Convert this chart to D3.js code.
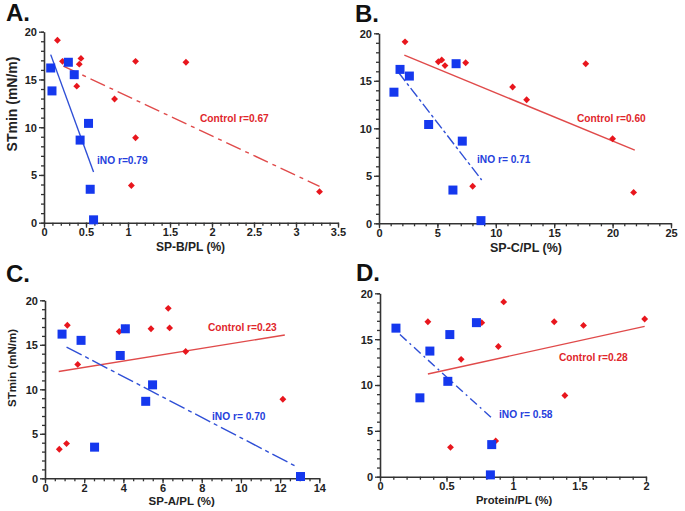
<!DOCTYPE html>
<html><head><meta charset="utf-8">
<script src="https://cdn.jsdelivr.net/npm/d3@7"></script>
<style>
body{margin:0;background:#fff}
text{font-family:"Liberation Sans",Arial,sans-serif;font-weight:bold}
</style>
</head><body>
<svg id="chart" width="685" height="511"></svg>
<script>
// ---------- DATA ----------
// Panel A: SP-B/PL (%)
const aCtrlX = [0.16,0.22,0.44,0.42,0.39,0.84,1.09,1.69,1.09,1.04,3.28];
const aCtrlY = [19.1,16.9,17.2,16.6,14.3,12.95,16.9,16.8,8.9,3.9,3.25];
const aInoX  = [0.08,0.095,0.29,0.36,0.53,0.43,0.55,0.59];
const aInoY  = [16.2,13.8,16.8,15.5,10.4,8.65,3.5,0.3];
const aCtrlFitX = [0.23,3.28], aCtrlFitY = [16.4,3.8];
const aInoFitX  = [0.08,0.59], aInoFitY  = [17.6,5.3];
// Panel B: SP-C/PL (%)
const bCtrlX = [2.23,5.08,5.37,5.65,7.42,11.44,12.64,17.7,20.0,8.02,21.8];
const bCtrlY = [19.1,17.0,17.2,16.6,16.9,14.35,13.0,16.8,8.9,3.9,3.25];
const bInoX  = [1.8,1.28,6.6,2.6,4.25,7.13,6.33,8.73];
const bInoY  = [16.2,13.8,16.8,15.5,10.4,8.65,3.5,0.28];
const bCtrlFitX = [2.17,21.9], bCtrlFitY = [17.7,7.7];
const bInoFitX  = [1.66,8.79], bInoFitY  = [15.9,4.56];
// Panel C: SP-A/PL (%)
const cCtrlX = [0.73,1.1,1.14,1.67,3.79,4.1,5.41,6.29,6.36,7.18,12.14];
const cCtrlY = [3.26,3.9,17.2,12.8,16.5,16.9,16.8,19.1,16.9,14.25,8.88];
const cInoX  = [0.87,1.84,4.1,3.84,5.49,5.14,2.53,13.04];
const cInoY  = [16.2,15.5,16.8,13.8,10.5,8.65,3.5,0.2];
const cCtrlFitX = [0.7,12.24], cCtrlFitY = [12.0,16.1];
const cInoFitX  = [1.1,12.84], cInoFitY  = [14.75,1.3];
// Panel D: Protein/PL (%)
const dCtrlX = [0.36,0.93,0.765,0.89,0.61,0.53,0.87,1.31,1.53,1.99,1.39];
const dCtrlY = [16.9,19.06,16.8,14.2,12.8,3.2,3.9,16.9,16.5,17.2,8.85];
const dInoX  = [0.12,0.375,0.525,0.725,0.51,0.30,0.84,0.83];
const dInoY  = [16.2,13.7,15.5,16.8,10.4,8.6,3.5,0.2];
const dCtrlFitX = [0.36,1.99], dCtrlFitY = [11.2,16.4];
const dInoFitX  = [0.15,0.84], dInoFitY  = [15.5,6.4];

const panelLetters = ["A.","B.","C.","D."];
const xTitles = ["SP-B/PL (%)","SP-C/PL (%)","SP-A/PL (%)","Protein/PL (%)"];
const yTitle = "STmin (mN/m)";
const ctrlLabels = ["Control r=0.67","Control r=0.60","Control r=0.23","Control r=0.28"];
const inoLabels = ["iNO r=0.79","iNO r= 0.71","iNO r= 0.70","iNO r= 0.58"];
const xMaxes = [3.5,25,14,2];
const xMajorSteps = [0.5,5,2,0.5];
const xMinorSteps = [0.1,1,0.5,0.1];
const yMajorTicks = [0,5,10,15,20];

// ---------- LAYOUT ----------
const RED = "#e8161d", BLUE = "#1538ee";
const RED_LINE = "#e04a4a", BLUE_LINE = "#2f4fd6";
const panels = [
  {l:44, r:338, t:31.7, b:222.7, letter:[6,20.5], xt:[190.5,251,12], yt:[16.5,104,14],
   ctrl:[200,121.5], ino:[97,164], ctrlDash:"16,5,4,5", inoDash:null,
   cx:aCtrlX, cy:aCtrlY, ix:aInoX, iy:aInoY, cfx:aCtrlFitX, cfy:aCtrlFitY, ifx:aInoFitX, ify:aInoFitY},
  {l:379, r:671, t:33.3, b:223.3, letter:[355,21.5], xt:[526,252,12.5], yt:null,
   ctrl:[577,122], ino:[477,163], ctrlDash:null, inoDash:"11,3,3,3",
   cx:bCtrlX, cy:bCtrlY, ix:bInoX, iy:bInoY, cfx:bCtrlFitX, cfy:bCtrlFitY, ifx:bInoFitX, ify:bInoFitY},
  {l:45, r:319.3, t:300.3, b:478.3, letter:[6,282], xt:[181.7,505,11.5], yt:[16,368,11.5],
   ctrl:[208,330.5], ino:[212,419.5], ctrlDash:null, inoDash:"17,4,4,4",
   cx:cCtrlX, cy:cCtrlY, ix:cInoX, iy:cInoY, cfx:cCtrlFitX, cfy:cCtrlFitY, ifx:cInoFitX, ify:cInoFitY},
  {l:380, r:646, t:293.3, b:476.7, letter:[356,280.5], xt:[514,504,11.2], yt:null,
   ctrl:[559,360.5], ino:[499,418], ctrlDash:null, inoDash:"9,4,2,4",
   cx:dCtrlX, cy:dCtrlY, ix:dInoX, iy:dInoY, cfx:dCtrlFitX, cfy:dCtrlFitY, ifx:dInoFitX, ify:dInoFitY}
];

const svg = d3.select("#chart");
const fmt = d3.format("~g");
const rng = (max, step) => d3.range(0, Math.round(max/step)+1).map(i => +(i*step).toFixed(4));

panels.forEach((p, k) => {
  const x = d3.scaleLinear().domain([0, xMaxes[k]]).range([p.l, p.r]);
  const y = d3.scaleLinear().domain([0, 20]).range([p.b, p.t]);
  const g = svg.append("g");

  // minor ticks
  g.append("g").attr("transform", `translate(0,${p.b})`)
    .call(d3.axisBottom(x).tickValues(rng(xMaxes[k], xMinorSteps[k])).tickSize(3).tickFormat(""))
    .call(a => a.select(".domain").remove());
  g.append("g").attr("transform", `translate(${p.l},0)`)
    .call(d3.axisLeft(y).tickValues(d3.range(0,21)).tickSize(3).tickFormat(""))
    .call(a => a.select(".domain").remove());
  // major axes
  const xa = g.append("g").attr("transform", `translate(0,${p.b})`)
    .call(d3.axisBottom(x).tickValues(rng(xMaxes[k], xMajorSteps[k])).tickSize(5).tickPadding(1).tickFormat(fmt).tickSizeOuter(0));
  const ya = g.append("g").attr("transform", `translate(${p.l},0)`)
    .call(d3.axisLeft(y).tickValues(yMajorTicks).tickSize(5).tickPadding(2).tickFormat(fmt).tickSizeOuter(0));
  [xa, ya].forEach(a => {
    a.selectAll("text").attr("font-size", 11).attr("fill", "#222").style("font-weight","bold");
    a.select(".domain").attr("stroke", "#333").attr("stroke-width", 1.6);
  });
  g.selectAll(".tick line").attr("stroke", "#333").attr("stroke-width", 1.3);
  ya.selectAll("text").attr("dy", "0.35em");

  // fit lines
  const line = d3.line().x(d => x(d[0])).y(d => y(d[1]));
  g.append("path").datum(p.cfx.map((v,i)=>[v,p.cfy[i]]))
    .attr("d", line).attr("fill","none").attr("stroke", RED_LINE).attr("stroke-width", 1.4)
    .attr("stroke-dasharray", p.ctrlDash);
  g.append("path").datum(p.ifx.map((v,i)=>[v,p.ify[i]]))
    .attr("d", line).attr("fill","none").attr("stroke", BLUE_LINE).attr("stroke-width", 1.4)
    .attr("stroke-dasharray", p.inoDash);

  // points
  const diamond = d3.symbol().type(d3.symbolDiamond2).size(30);
  g.selectAll(".ctrl").data(p.cx.map((v,i)=>[v,p.cy[i]])).join("path")
    .attr("transform", d => `translate(${x(d[0])},${y(d[1])})`)
    .attr("d", diamond).attr("fill", RED);
  g.selectAll(".ino").data(p.ix.map((v,i)=>[v,p.iy[i]])).join("rect")
    .attr("x", d => x(d[0]) - 4.5).attr("y", d => y(d[1]) - 4.5)
    .attr("width", 9).attr("height", 9).attr("fill", BLUE);

  // texts
  g.append("text").attr("x", p.letter[0]).attr("y", p.letter[1])
    .attr("font-size", 24).attr("fill", "#111").text(panelLetters[k]);
  g.append("text").attr("x", p.xt[0]).attr("y", p.xt[1]).attr("text-anchor","middle")
    .attr("font-size", p.xt[2]).attr("fill","#222").text(xTitles[k]);
  if (p.yt) {
    g.append("text").attr("transform", `translate(${p.yt[0]},${p.yt[1]}) rotate(-90)`)
      .attr("text-anchor","middle").attr("font-size", p.yt[2]).attr("fill","#222").text(yTitle);
  }
  g.append("text").attr("x", p.ctrl[0]).attr("y", p.ctrl[1]).attr("font-size", 10.2)
    .attr("fill", "#e0262b").text(ctrlLabels[k]);
  g.append("text").attr("x", p.ino[0]).attr("y", p.ino[1]).attr("font-size", 10.2)
    .attr("fill", "#2540dc").text(inoLabels[k]);
});
</script>
</body></html>
